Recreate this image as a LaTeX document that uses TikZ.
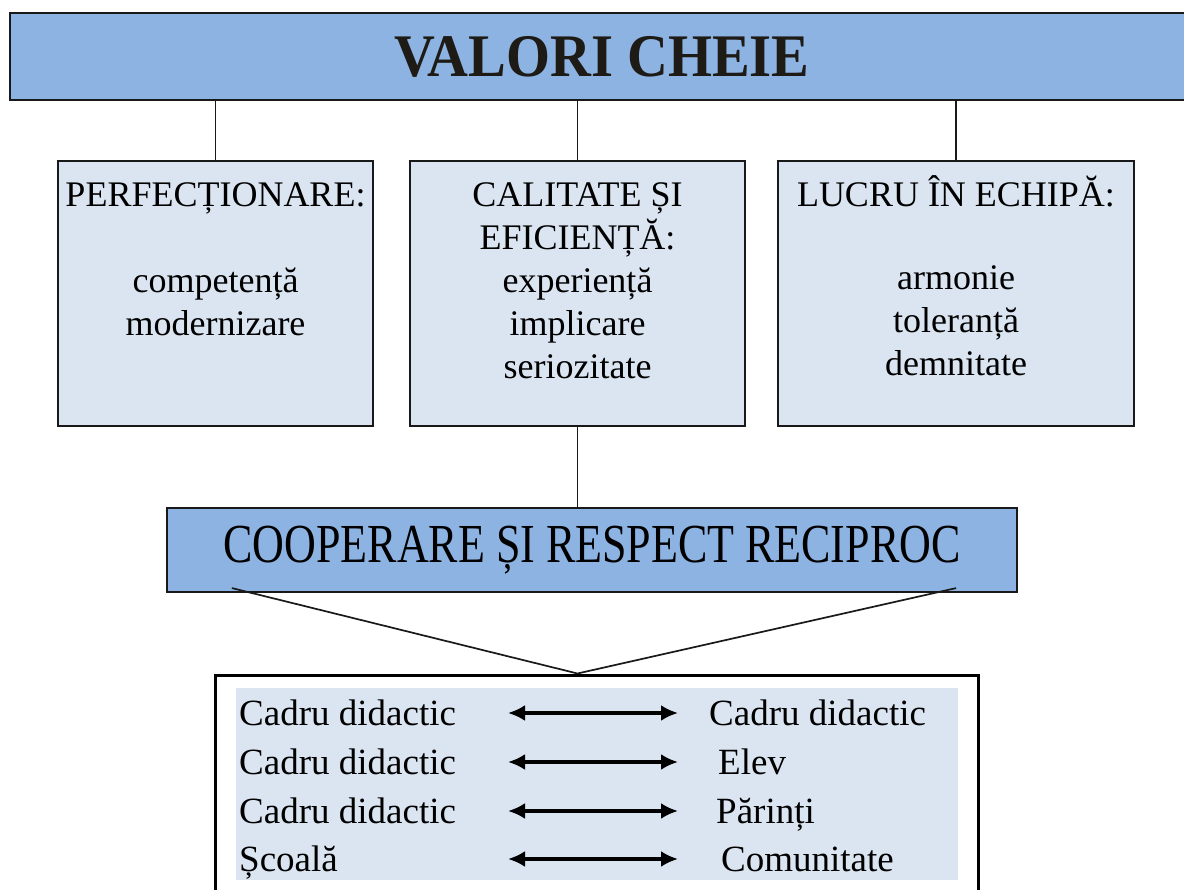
\documentclass[tikz,border=0pt]{standalone}
\usepackage{fontspec}
\setmainfont{Liberation Serif}
\usetikzlibrary{arrows.meta, positioning}
\definecolor{headblue}{HTML}{8DB3E2}
\definecolor{paleblue}{HTML}{DBE5F1}
\definecolor{inkdark}{HTML}{1E1B16}

\begin{document}
\begin{tikzpicture}[x=1pt,y=-1pt,
    headbox/.style={draw=black!90, line width=2.2pt, fill=headblue, inner sep=0pt},
    valbox/.style={draw=black!90, line width=2.2pt, fill=paleblue, inner sep=0pt},
    valtext/.style={anchor=north, align=center, inner sep=0pt, font=\fontsize{36}{43}\selectfont},
    rowtext/.style={anchor=base west, inner sep=0pt, font=\fontsize{37}{44}\selectfont},
    link/.style={draw=black!90, line width=1.7pt},
    twoway/.style={line width=3.2pt, {Latex[length=17pt,width=16pt]}-{Latex[length=17pt,width=16pt]}}]
                \clip (0,0) rectangle (1184,890);
                
                % Header
                \node[headbox, minimum width=1184, minimum height=87,
                      font=\fontsize{56}{60}\bfseries\selectfont, text=inkdark] (title) at (602,56.5)
                    {\raisebox{-4pt}{\scalebox{1.01}[1.08]{VALORI CHEIE}}};
                
                % Values
                \node[valbox, minimum width=315, minimum height=265] (perf) at (215.5,293.5) {};
                \node[valbox, minimum width=335, minimum height=265] (calit) at (577.5,293.5) {};
                \node[valbox, minimum width=356, minimum height=265] (echipa) at (956,293.5) {};
                \node[valtext] (perftxt) at ([yshift=-12]perf.north)
                    {\rule{0pt}{34pt}PERFECȚIONARE:\\[43pt] competență\\ modernizare};
                \node[valtext] (calittxt) at ([yshift=-12]calit.north)
                    {\rule{0pt}{34pt}CALITATE ȘI\\ EFICIENȚĂ:\\ experiență\\ implicare\\ seriozitate};
                \node[valtext] (echipatxt) at ([yshift=-12]echipa.north)
                    {\rule{0pt}{34pt}LUCRU ÎN ECHIPĂ:\\[40pt] armonie\\ toleranță\\ demnitate};
                
                % Cooperation
                \node[headbox, minimum width=850, minimum height=84,
                      font=\fontsize{44}{48}\selectfont] (coop) at (592,550)
                    {\scalebox{1}[1.25]{COOPERARE ȘI RESPECT RECIPROC}};
                
                % Pairs
                \node[draw=black, line width=3pt, fill=white, minimum width=763, minimum height=230, inner sep=0pt] (pairs) at (596.5,790) {};
                \node[fill=paleblue, minimum width=722, minimum height=192, inner sep=0pt] (pairsbg) at (597,784) {};
                
                \node[rowtext] (l1) at (239,725) {Cadru didactic};
                \node[rowtext] (l2) at (239,774) {Cadru didactic};
                \node[rowtext] (l3) at (239,823) {Cadru didactic};
                \node[rowtext] (l4) at (239,871) {Școală};
                \node[rowtext] (r1) at (709,725) {Cadru didactic};
                \node[rowtext] (r2) at (718,774) {Elev};
                \node[rowtext] (r3) at (716,823) {Părinți};
                \node[rowtext] (r4) at (721,871) {Comunitate};
                
                \coordinate (a1) at (508,713);
                \coordinate (b1) at (678,713);
                \coordinate (a2) at (508,762);
                \coordinate (b2) at (678,762);
                \coordinate (a3) at (508,811);
                \coordinate (b3) at (678,811);
                \coordinate (a4) at (508,859);
                \coordinate (b4) at (678,859);
                
                % Edges
                \draw[link] (perf.north |- title.south) -- (perf.north);
                \draw[link] (calit.north |- title.south) -- (calit.north);
                \draw[link] (echipa.north |- title.south) -- (echipa.north);
                \draw[link] (calit.south) -- (calit.south |- coop.north);
                
                \coordinate (vleft) at ([xshift=66,yshift=5]coop.south west);
                \coordinate (vright) at ([xshift=-62,yshift=5]coop.south east);
                \coordinate (vtip) at (calit.south |- pairs.north);
                \draw[link] (vleft) -- (vtip) -- (vright);
                
                \draw[twoway] (a1) -- (b1);
                \draw[twoway] (a2) -- (b2);
                \draw[twoway] (a3) -- (b3);
                \draw[twoway] (a4) -- (b4);
            \end{tikzpicture}
\end{document}
